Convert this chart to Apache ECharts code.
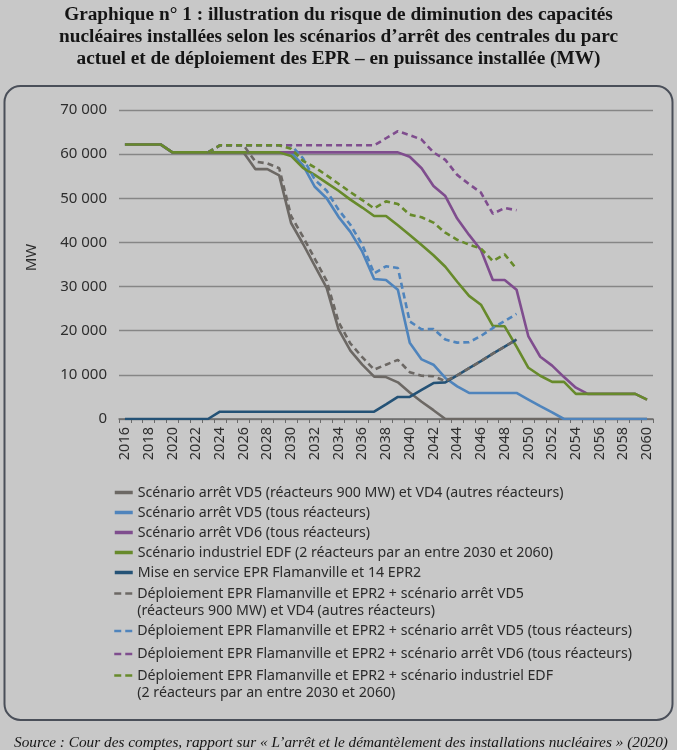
<!DOCTYPE html>
<html><head><meta charset="utf-8">
<script src="https://cdn.jsdelivr.net/npm/echarts@6/dist/echarts.min.js"></script>
<style>html,body{margin:0;padding:0;background:#c8c8c8;}#c{width:677px;height:750px;}</style>
</head><body><div id="c"></div>
<script>
// ---- data ----
const years = ['2016','2017','2018','2019','2020','2021','2022','2023','2024','2025','2026','2027','2028','2029','2030','2031','2032','2033','2034','2035','2036','2037','2038','2039','2040','2041','2042','2043','2044','2045','2046','2047','2048','2049','2050','2051','2052','2053','2054','2055','2056','2057','2058','2059','2060'];

const names = [
  'Scénario arrêt VD5 (réacteurs 900 MW) et VD4 (autres réacteurs)',
  'Scénario arrêt VD5 (tous réacteurs)',
  'Scénario arrêt VD6 (tous réacteurs)',
  'Scénario industriel EDF (2 réacteurs par an entre 2030 et 2060)',
  'Mise en service EPR Flamanville et 14 EPR2',
  'Déploiement EPR Flamanville et EPR2 + scénario arrêt VD5\n(réacteurs 900 MW) et VD4 (autres réacteurs)',
  'Déploiement EPR Flamanville et EPR2 + scénario arrêt VD5 (tous réacteurs)',
  'Déploiement EPR Flamanville et EPR2 + scénario arrêt VD6 (tous réacteurs)',
  'Déploiement EPR Flamanville et EPR2 + scénario industriel EDF\n(2 réacteurs par an entre 2030 et 2060)'
];

const grayVD5VD4 = [62200,62200,62200,62200,60400,60400,60400,60400,60400,60400,60400,
  56600,56600,55200,44400,39700,34700,29700,20300,15500,12300,9600,9500,8300,6000,3900,2000,0,
  0,0,0,0,0,0,0,0,0,0,0,0,0,0,0,0,0];
const blueVD5 = [62200,62200,62200,62200,60400,60400,60400,60400,60400,60400,60400,60400,60400,60400,60400,
  57500,52600,50000,45800,42400,37900,31700,31500,29300,17300,13500,12300,9300,7400,5900,5900,5900,5900,5900,4400,2900,1500,0,
  0,0,0,0,0,0,0];
const purpleVD6 = [62200,62200,62200,62200,60400,60400,60400,60400,60400,60400,60400,60400,60400,60400,60400,60400,60400,60400,60400,60400,60400,60400,60400,60400,
  59400,56800,52800,50500,45400,41700,38300,31500,31500,29300,18700,14100,12100,9500,7100,5700,
  5700,5700,5700,5700,4400];
const greenEDF = [62200,62200,62200,62200,60400,60400,60400,60400,60400,60400,60400,60400,60400,60400,
  59600,56900,55300,53500,51700,49700,47900,46000,46000,43900,41700,39400,37100,34500,31100,27900,25900,21100,21000,16400,11600,9800,8400,8400,5700,
  5700,5700,5700,5700,5700,4400];
const epr = [0,0,0,0,0,0,0,0,
  1650,1650,1650,1650,1650,1650,1650,1650,1650,1650,1650,1650,1650,1650,
  3300,5000,5000,6600,8150,8300,9900,11500,13100,14800,16400,18000,
  null,null,null,null,null,null,null,null,null,null,null];
const eprGray = [null,null,null,null,null,null,null,
  60400,62000,62000,62000,58300,57900,56800,46000,41300,36300,31300,22000,17100,14000,11200,12300,13400,10600,9800,9700,8600,9900,11500,13100,14800,16400,18000,
  null,null,null,null,null,null,null,null,null,null,null];
const eprBlue = [null,null,null,null,null,null,null,
  60400,62000,62000,62000,62000,62000,62000,62000,
  59100,54200,51700,47400,44000,39500,33000,34600,34200,22100,20300,20400,18000,17300,17400,18800,20600,22200,23800,
  null,null,null,null,null,null,null,null,null,null,null];
const eprPurple = [null,null,null,null,null,null,null,
  60400,62000,62000,62000,62000,62000,62000,62000,62000,62000,62000,62000,62000,62000,62000,
  63600,65200,64300,63300,60400,58700,55300,53200,51300,46500,47800,47300,
  null,null,null,null,null,null,null,null,null,null,null];
const eprGreen = [null,null,null,null,null,null,null,
  60400,62000,62000,62000,62000,62000,62000,
  61200,58500,57000,55200,53300,51400,49600,47700,49300,48700,46300,45700,44500,42200,40600,39500,38600,35800,37300,34000,
  null,null,null,null,null,null,null,null,null,null,null];

const seriesData = [grayVD5VD4, blueVD5, purpleVD6, greenEDF, epr, eprGray, eprBlue, eprPurple, eprGreen];
const colors = ['#6c6864','#4f84bc','#7f4d8e','#678a2b','#245276','#6c6864','#4f84bc','#7f4d8e','#678a2b'];
const dashed = [false,false,false,false,false,true,true,true,true];

// ---- chart ----
const FONT = '"Noto Sans", "Open Sans", sans-serif';
const chart = echarts.init(document.getElementById('c'), null, {renderer:'canvas'});
const fmt = v => String(v).replace(/\B(?=(\d{3})+(?!\d))/g, ' ');
const legendBase = {
  orient:'vertical', left:108, itemWidth:18, itemHeight:14,
  textStyle:{fontFamily:FONT, fontSize:14.2, lineHeight:17, color:'#2b2b2b'},
  itemStyle:{opacity:0}, selectedMode:false
};
const dashIcon = {type:[7,4]};
chart.setOption({
  animation:false,
  backgroundColor:'#c8c8c8',
  title:{
    text:'Graphique n° 1 : illustration du risque de diminution des capacités\nnucléaires installées selon les scénarios d’arrêt des centrales du parc\nactuel et de déploiement des EPR – en puissance installée (MW)',
    left:'center', top:4, padding:0,
    textStyle:{fontFamily:'"Liberation Serif", serif', fontWeight:'bold', fontSize:19.3, lineHeight:22, color:'#151515'}
  },
  graphic:[
    {type:'rect', shape:{x:4.5, y:86, width:668, height:634, r:16}, style:{fill:'none', stroke:'#4a4f59', lineWidth:2}, silent:true, z:-1},
    {type:'text', x:341, y:743, style:{text:'Source : Cour des comptes, rapport sur « L’arrêt et le démantèlement des installations nucléaires » (2020)', align:'center', verticalAlign:'middle', font:'italic 15.3px "Liberation Serif", serif', fill:'#151515'}}
  ],
  legend:[
    Object.assign({}, legendBase, {top:479, itemGap:3, data:names.slice(0,5), lineStyle:{width:3.5}}),
    Object.assign({}, legendBase, {top:563, itemGap:0, data:[{name:names[5], lineStyle:dashIcon}], lineStyle:{width:2.5}, formatter: n => '\n' + n}),
    Object.assign({}, legendBase, {top:617.5, itemGap:6, data:[{name:names[6], lineStyle:dashIcon},{name:names[7], lineStyle:dashIcon}], lineStyle:{width:2.5}}),
    Object.assign({}, legendBase, {top:645, itemGap:0, data:[{name:names[8], lineStyle:dashIcon}], lineStyle:{width:2.5}, formatter: n => '\n' + n})
  ],
  grid:{left:119, right:24, top:110, bottom:331, containLabel:false},
  xAxis:{
    type:'category', data:years, boundaryGap:true,
    axisLine:{lineStyle:{color:'#6a6a6a', width:1.5}},
    axisTick:{show:true, interval:0, length:4, lineStyle:{color:'#6a6a6a'}},
    axisLabel:{interval:1, rotate:90, margin:8, color:'#2e2e2e', fontFamily:FONT, fontSize:14.5}
  },
  yAxis:{
    type:'value', min:0, max:70000, interval:10000,
    name:'MW', nameLocation:'middle', nameGap:80, nameRotate:90,
    nameTextStyle:{fontFamily:FONT, fontSize:15, color:'#2e2e2e', padding:[0,0,0,14]},
    axisLine:{show:false}, axisTick:{show:false},
    axisLabel:{margin:12, color:'#2e2e2e', fontFamily:FONT, fontSize:15, formatter:fmt},
    splitLine:{lineStyle:{color:'#868686', width:1.3}}
  },
  series: seriesData.map((d,i) => ({
    name:names[i], type:'line', data:d, symbol:'none', connectNulls:false,
    color:colors[i],
    lineStyle:{color:colors[i], width:2.6, type: dashed[i] ? [6,4] : 'solid'}
  }))
});
</script></body></html>
